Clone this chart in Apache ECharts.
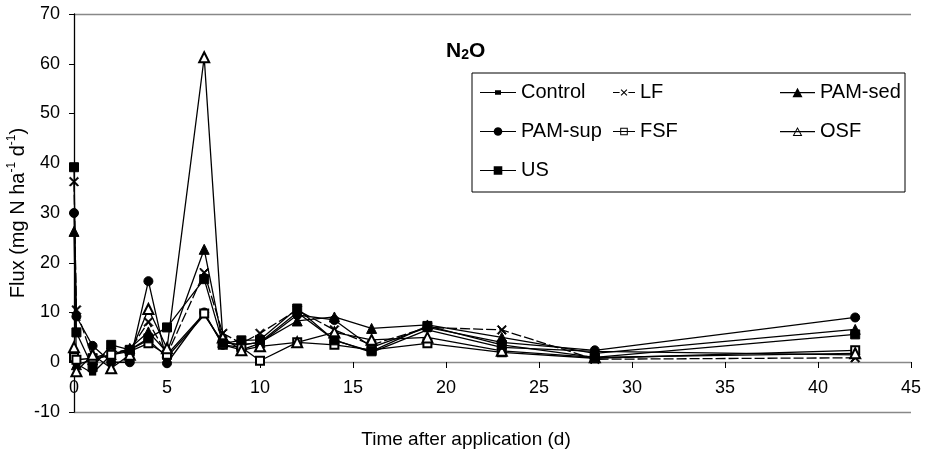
<!DOCTYPE html>
<html>
<head>
<meta charset="utf-8">
<script src="https://cdn.jsdelivr.net/npm/echarts@6/dist/echarts.min.js"></script>
<style>html,body{margin:0;padding:0;background:#fff;}#c{width:925px;height:458px;}</style>
</head>
<body>
<div id="c"></div>
<script>
// Time after application (d)
var times = [0, 0.13, 1, 2, 3, 4, 5, 7, 8, 9, 10, 12, 14, 16, 19, 23, 28, 42];
// N2O flux (mg N ha-1 d-1)
var control = [0.5, -0.3, -2.2, 1.5, 2.5, 4.5, 1.0, 9.5, 4.0, 3.5, 4.0, 10.0, 4.5, 2.0, 6.5, 3.0, 2.2, 1.5];
var lf      = [36.3, 10.5, 0.8, 2.0, 2.5, 8.1, 1.5, 18.0, 5.8, 3.8, 5.8, 10.5, 6.5, 3.5, 7.0, 6.5, 0.6, 0.9];
var pamSed  = [26.3, -0.5, 0.5, 1.5, 2.8, 6.1, 2.0, 22.7, 4.0, 3.5, 4.0, 8.3, 9.1, 6.8, 7.5, 5.0, 1.8, 6.6];
var pamSup  = [30.0, 9.2, 3.3, 0.0, 0.0, 16.3, -0.2, 10.0, 3.5, 2.5, 3.8, 9.5, 8.5, 3.0, 7.0, 4.0, 2.4, 9.0];
var fsf     = [1.0, 0.5, 0.8, 1.5, 2.2, 3.8, 1.5, 9.8, 3.5, 3.0, 0.3, 4.0, 3.5, 2.5, 3.8, 2.0, 0.8, 2.4];
var osf     = [3.0, -1.8, 1.5, -1.2, 1.5, 10.7, 2.8, 61.3, 5.0, 2.4, 3.2, 4.0, 6.0, 4.5, 5.0, 2.3, 1.0, 1.8];
var us      = [39.2, 6.0, -1.0, 3.5, 2.5, 4.8, 7.0, 16.7, 3.8, 4.4, 4.5, 10.8, 4.4, 2.2, 7.3, 3.5, 1.0, 5.6];
var yTicks = [-10, 0, 10, 20, 30, 40, 50, 60, 70];
var xTicks = [0, 5, 10, 15, 20, 25, 30, 35, 40, 45];

function pairs(v){ return times.map(function(t,i){ return [t, v[i]]; }); }
var FONT = '"Liberation Sans", Arial, sans-serif';

// ---- symbol path helpers (shapes only) ----
function f(n){ return (+n).toFixed(2); }
function poly(pts){ return 'M' + pts.map(function(p){ return f(p[0]) + ',' + f(p[1]); }).join('L') + 'Z'; }
function rectP(x0,y0,x1,y1,rev){ return rev ? poly([[x0,y0],[x0,y1],[x1,y1],[x1,y0]]) : poly([[x0,y0],[x1,y0],[x1,y1],[x0,y1]]); }
function xP(cx,cy,s,t){ return poly([[cx-s,cy-s+t],[cx-s+t,cy-s],[cx,cy-t],[cx+s-t,cy-s],[cx+s,cy-s+t],[cx+t,cy],[cx+s,cy+s-t],[cx+s-t,cy+s],[cx,cy+t],[cx-s+t,cy+s],[cx-s,cy+s-t],[cx-t,cy]]); }
function triP(cx,cy,r,rev){ var p=[[cx,cy-r],[cx+r*1.05,cy+r*0.95],[cx-r*1.05,cy+r*0.95]]; if(rev) p.reverse(); return poly(p); }
function circP(cx,cy,r){ var p=[]; for(var i=0;i<20;i++){ var a=i/20*Math.PI*2; p.push([cx+r*Math.cos(a), cy+r*Math.sin(a)]); } return poly(p); }
function lineP(x0,x1){ return rectP(x0,5.4,x1,6.6); }

var xMark = 'path://' + xP(5,5,5,1.0);

function icon(kind, w){
  var cx = w/2, cy = 6, s;
  switch(kind){
    case 'control': s = lineP(0,w) + rectP(cx-3,cy-2.2,cx+3,cy+2.2); break;
    case 'lf': s = lineP(0,w*0.3) + lineP(w*0.7,w) + xP(cx,cy,3.3,0.75); break;
    case 'tri': s = lineP(0,w) + triP(cx,cy,4.8); break;
    case 'circle': s = lineP(0,w) + circP(cx,cy,4.3); break;
    case 'esq': s = lineP(0,w) + rectP(cx-3.8,cy-3.8,cx+3.8,cy+3.8) + rectP(cx-2.8,cy-2.8,cx+2.8,cy+2.8,true); break;
    case 'etri': s = lineP(0,w) + triP(cx,cy,4.6) + triP(cx,cy+0.5,3.0,true); break;
    case 'sq': s = lineP(0,w) + rectP(cx-4.3,cy-4.3,cx+4.3,cy+4.3); break;
  }
  return 'path://' + s;
}

function mk(name, data, symbol, size, dash){
  return {
    name: name, type: 'line', data: pairs(data),
    symbol: symbol, symbolSize: size, showSymbol: true,
    lineStyle: {color: '#000', width: 1.3, type: dash || 'solid'},
    itemStyle: {color: '#000', borderColor: '#000', borderWidth: 1},
    emphasis: {disabled: true}, animation: false, z: 3
  };
}

var series = [
  mk('Control', control, 'rect', [6,4]),
  mk('LF', lf, xMark, 9, [10,3]),
  mk('PAM-sed', pamSed, 'triangle', 10),
  mk('PAM-sup', pamSup, 'circle', 9),
  mk('FSF', fsf, 'emptyRect', 8),
  mk('OSF', osf, 'emptyTriangle', 10),
  mk('US', us, 'rect', 9)
];

var gridColors = yTicks.map(function(v,i){ return (i===0 || i===yTicks.length-1) ? '#888' : 'rgba(0,0,0,0)'; });

function legendCol(left, items, w){
  return {
    left: left, top: 76, orient: 'vertical', itemGap: 16,
    itemWidth: w, itemHeight: 12, selectedMode: false,
    itemStyle: {borderWidth: 0},
    data: items.map(function(it){ return {name: it[0], icon: icon(it[1], w)}; }),
    textStyle: {fontFamily: FONT, fontSize: 20, color: '#000', lineHeight: 23}
  };
}

var chart = echarts.init(document.getElementById('c'), null, {renderer: 'canvas'});
chart.setOption({
  animation: false,
  backgroundColor: '#fff',
  grid: {left: 74, right: 14, top: 14, bottom: 46, containLabel: false, outerBoundsMode: 'none'},
  title: {
    text: 'N{sub|2}O', left: 441, top: 36,
    textStyle: {fontFamily: FONT, fontSize: 21, fontWeight: 'bold', color: '#000',
      rich: {sub: {fontFamily: FONT, fontSize: 14, fontWeight: 'bold', color: '#000', verticalAlign: 'bottom', padding: [6,0,0,0]}}}
  },
  legend: [
    legendCol(475, [['Control','control'], ['PAM-sup','circle'], ['US','sq']], 36),
    legendCol(608, [['LF','lf'], ['FSF','esq']], 22),
    legendCol(775, [['PAM-sed','tri'], ['OSF','etri']], 35)
  ],
  xAxis: {
    type: 'value', min: 0, max: 45, interval: 5, offset: -50,
    axisLine: {onZero: false, lineStyle: {color: '#888', width: 1.3}},
    axisTick: {show: true, inside: false, length: 6, lineStyle: {color: '#000'}},
    axisLabel: {fontFamily: FONT, fontSize: 18, color: '#000', margin: 17},
    splitLine: {show: false}
  },
  yAxis: {
    type: 'value', min: -10, max: 70, interval: 10,
    name: 'Flux (mg N ha{sup|-1} d{sup|-1})', nameLocation: 'middle', nameGap: 44, nameRotate: 90,
    nameMoveOverlap: false,
    nameTextStyle: {fontFamily: FONT, fontSize: 20, color: '#000', lineHeight: 24,
      rich: {sup: {fontFamily: FONT, fontSize: 12, color: '#000', verticalAlign: 'top', lineHeight: 24, padding: [0,0,7,0]}}},
    axisLine: {show: true, lineStyle: {color: '#000', width: 1.3}},
    axisTick: {show: true, inside: false, length: 5, lineStyle: {color: '#000'}},
    axisLabel: {fontFamily: FONT, fontSize: 18, color: '#000', margin: 14},
    splitLine: {show: true, lineStyle: {color: gridColors, width: 1.3}}
  },
  graphic: [
    {type: 'rect', shape: {x: 472, y: 73, width: 433, height: 119}, style: {fill: '#fff', stroke: '#000', lineWidth: 1}, z: 1},
    {type: 'text', x: 466, y: 440, style: {text: 'Time after application (d)', fontFamily: FONT, fontSize: 19, fill: '#000', textAlign: 'center', textVerticalAlign: 'middle'}}
  ],
  series: series
});
</script>
</body>
</html>
